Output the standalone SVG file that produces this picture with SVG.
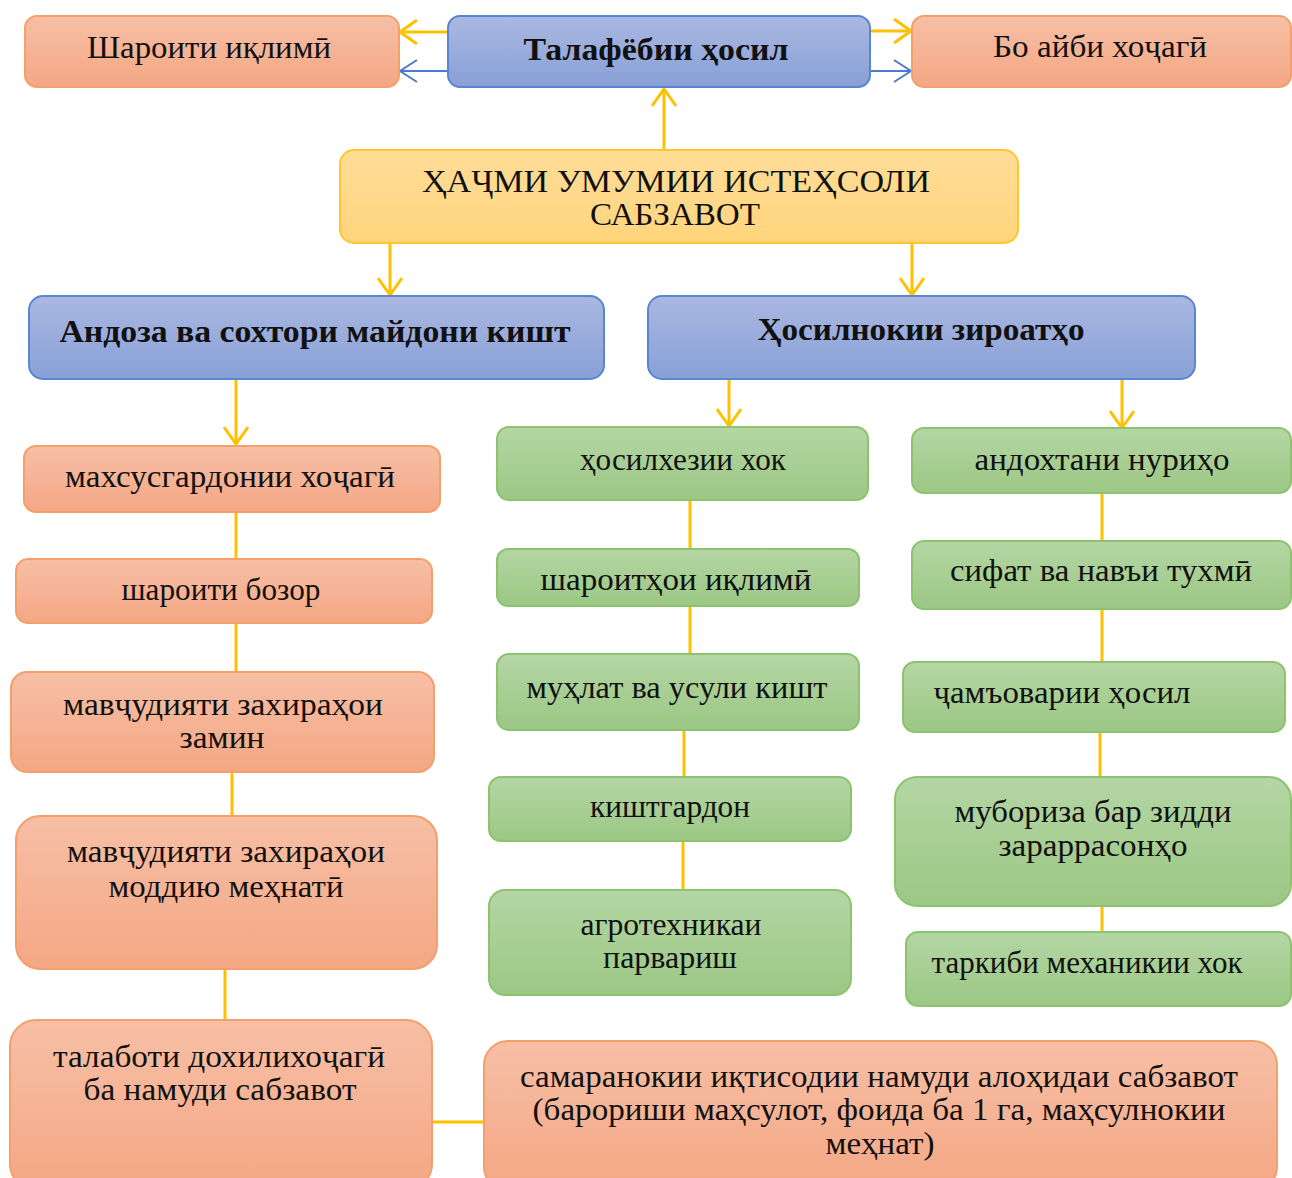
<svg xmlns="http://www.w3.org/2000/svg" width="1292" height="1178" viewBox="0 0 1292 1178">
<style>
.t{font-family:"Liberation Serif","Times New Roman","DejaVu Serif",serif;font-size:31px;fill:#111111;text-anchor:middle}
.b{font-weight:bold;font-size:32px}
.or{fill:url(#gOr);stroke:#F3A06A;stroke-width:2}
.bl{fill:url(#gBl);stroke:#5A85D0;stroke-width:2}
.gr{fill:url(#gGr);stroke:#8DC26E;stroke-width:2}
.ye{fill:url(#gYe);stroke:#FFC72C;stroke-width:2}
.cy{stroke:#FFC000;stroke-width:3;fill:none}
.cb{stroke:#4A7BD0;stroke-width:2;fill:none}
</style>
<defs>
<linearGradient id="gOr" x1="0" y1="0" x2="0" y2="1"><stop offset="0" stop-color="#F7BFA6"/><stop offset="1" stop-color="#F4A784"/></linearGradient>
<linearGradient id="gBl" x1="0" y1="0" x2="0" y2="1"><stop offset="0" stop-color="#AAB8E1"/><stop offset="1" stop-color="#88A0D7"/></linearGradient>
<linearGradient id="gGr" x1="0" y1="0" x2="0" y2="1"><stop offset="0" stop-color="#B4D6A4"/><stop offset="1" stop-color="#9CC784"/></linearGradient>
<linearGradient id="gYe" x1="0" y1="0" x2="0" y2="1"><stop offset="0" stop-color="#FFDD98"/><stop offset="1" stop-color="#FFD47C"/></linearGradient>
<marker id="ay" viewBox="0 0 20 26" refX="18" refY="13" markerWidth="20" markerHeight="26" markerUnits="userSpaceOnUse" orient="auto"><path d="M1,1 L18,13 L1,25" fill="none" stroke="#FFC000" stroke-width="3"/></marker>
<marker id="ab" viewBox="0 0 20 24" refX="18" refY="12" markerWidth="20" markerHeight="24" markerUnits="userSpaceOnUse" orient="auto"><path d="M1,1 L18,12 L1,23" fill="none" stroke="#4A7BD0" stroke-width="2"/></marker>
</defs>

<g id="connectors">
<line class="cy" x1="448" y1="32" x2="400" y2="32" marker-end="url(#ay)"/>
<line class="cb" x1="448" y1="71" x2="400" y2="71" marker-end="url(#ab)"/>
<line class="cy" x1="870" y1="31" x2="911" y2="31" marker-end="url(#ay)"/>
<line class="cb" x1="870" y1="71" x2="911" y2="71" marker-end="url(#ab)"/>
<line class="cy" x1="664" y1="150" x2="664" y2="89" marker-end="url(#ay)"/>
<line class="cy" x1="390" y1="243" x2="390" y2="295" marker-end="url(#ay)"/>
<line class="cy" x1="912" y1="243" x2="912" y2="295" marker-end="url(#ay)"/>
<line class="cy" x1="236" y1="379" x2="236" y2="444" marker-end="url(#ay)"/>
<line class="cy" x1="729" y1="379" x2="729" y2="426" marker-end="url(#ay)"/>
<line class="cy" x1="1122" y1="379" x2="1122" y2="428" marker-end="url(#ay)"/>
<line class="cy" x1="236" y1="512" x2="236" y2="559"/>
<line class="cy" x1="236" y1="623" x2="236" y2="672"/>
<line class="cy" x1="232" y1="772" x2="232" y2="816"/>
<line class="cy" x1="225" y1="969" x2="225" y2="1020"/>
<line class="cy" x1="432" y1="1122" x2="484" y2="1122"/>
<line class="cy" x1="690" y1="500" x2="690" y2="549"/>
<line class="cy" x1="690" y1="606" x2="690" y2="654"/>
<line class="cy" x1="684" y1="730" x2="684" y2="777"/>
<line class="cy" x1="683" y1="841" x2="683" y2="890"/>
<line class="cy" x1="1102" y1="493" x2="1102" y2="541"/>
<line class="cy" x1="1102" y1="609" x2="1102" y2="662"/>
<line class="cy" x1="1100" y1="732" x2="1100" y2="777"/>
<line class="cy" x1="1102" y1="906" x2="1102" y2="932"/>
</g>

<g id="n-sharoiti-iqlimi"><rect class="or" x="25" y="16" width="374" height="71" rx="12"/><text class="t" x="209" y="58" textLength="244" lengthAdjust="spacingAndGlyphs">Шароити иқлимӣ</text></g>
<g id="n-talafyobi"><rect class="bl" x="448" y="16" width="422" height="71" rx="12"/><text class="t b" x="656" y="60" textLength="265" lengthAdjust="spacingAndGlyphs">Талафёбии ҳосил</text></g>
<g id="n-bo-aybi"><rect class="or" x="912" y="16" width="379" height="71" rx="12"/><text class="t" x="1100" y="57" textLength="214" lengthAdjust="spacingAndGlyphs">Бо айби хоҷагӣ</text></g>

<g id="n-hajm"><rect class="ye" x="340" y="150" width="678" height="93" rx="14"/><text class="t" x="676" y="192" textLength="508" lengthAdjust="spacingAndGlyphs">ҲАҶМИ УМУМИИ ИСТЕҲСОЛИ</text><text class="t" x="675" y="225" textLength="170" lengthAdjust="spacingAndGlyphs">САБЗАВОТ</text></g>

<g id="n-andoza"><rect class="bl" x="29" y="296" width="575" height="83" rx="14"/><text class="t b" x="315" y="342" textLength="511" lengthAdjust="spacingAndGlyphs">Андоза ва сохтори майдони кишт</text></g>
<g id="n-hosilnoki"><rect class="bl" x="648" y="296" width="547" height="83" rx="14"/><text class="t b" x="921" y="340" textLength="327" lengthAdjust="spacingAndGlyphs">Ҳосилнокии зироатҳо</text></g>

<g id="n-mahsus"><rect class="or" x="24" y="446" width="416" height="66" rx="12"/><text class="t" x="230" y="487" textLength="330" lengthAdjust="spacingAndGlyphs">махсусгардонии хоҷагӣ</text></g>
<g id="n-bozor"><rect class="or" x="16" y="559" width="416" height="64" rx="12"/><text class="t" x="221" y="600" textLength="199" lengthAdjust="spacingAndGlyphs">шароити бозор</text></g>
<g id="n-zamin"><rect class="or" x="11" y="672" width="423" height="100" rx="16"/><text class="t" x="223" y="715" textLength="320" lengthAdjust="spacingAndGlyphs">мавҷудияти захираҳои</text><text class="t" x="222" y="748" textLength="85" lengthAdjust="spacingAndGlyphs">замин</text></g>
<g id="n-moddi"><rect class="or" x="16" y="816" width="421" height="153" rx="24"/><text class="t" x="226" y="862" textLength="318" lengthAdjust="spacingAndGlyphs">мавҷудияти захираҳои</text><text class="t" x="226" y="897" textLength="235" lengthAdjust="spacingAndGlyphs">моддию меҳнатӣ</text></g>
<g id="n-talabot"><rect class="or" x="10" y="1020" width="422" height="170" rx="26"/><text class="t" x="219" y="1067" textLength="332" lengthAdjust="spacingAndGlyphs">талаботи дохилихоҷагӣ</text><text class="t" x="220" y="1100" textLength="273" lengthAdjust="spacingAndGlyphs">ба намуди сабзавот</text></g>
<g id="n-samara"><rect class="or" x="484" y="1041" width="793" height="150" rx="24"/><text class="t" x="879" y="1087" textLength="718" lengthAdjust="spacingAndGlyphs">самаранокии иқтисодии намуди алоҳидаи сабзавот</text><text class="t" x="879" y="1120" textLength="693" lengthAdjust="spacingAndGlyphs">(барориши маҳсулот, фоида ба 1 га, маҳсулнокии</text><text class="t" x="880" y="1154" textLength="109" lengthAdjust="spacingAndGlyphs">меҳнат)</text></g>

<g id="n-hosilhezi"><rect class="gr" x="497" y="427" width="371" height="73" rx="12"/><text class="t" x="683" y="470" textLength="206" lengthAdjust="spacingAndGlyphs">ҳосилхезии хок</text></g>
<g id="n-iqlimi2"><rect class="gr" x="497" y="549" width="362" height="57" rx="11"/><text class="t" x="676" y="590" textLength="271" lengthAdjust="spacingAndGlyphs">шароитҳои иқлимӣ</text></g>
<g id="n-muhlat"><rect class="gr" x="497" y="654" width="362" height="76" rx="12"/><text class="t" x="677" y="698" textLength="301" lengthAdjust="spacingAndGlyphs">муҳлат ва усули кишт</text></g>
<g id="n-kisht"><rect class="gr" x="489" y="777" width="362" height="64" rx="12"/><text class="t" x="670" y="817" textLength="160" lengthAdjust="spacingAndGlyphs">киштгардон</text></g>
<g id="n-agro"><rect class="gr" x="489" y="890" width="362" height="105" rx="16"/><text class="t" x="671" y="935" textLength="181" lengthAdjust="spacingAndGlyphs">агротехникаи</text><text class="t" x="670" y="968" textLength="134" lengthAdjust="spacingAndGlyphs">парвариш</text></g>

<g id="n-nuri"><rect class="gr" x="912" y="428" width="379" height="65" rx="12"/><text class="t" x="1102" y="470" textLength="255" lengthAdjust="spacingAndGlyphs">андохтани нуриҳо</text></g>
<g id="n-sifat"><rect class="gr" x="912" y="541" width="379" height="68" rx="12"/><text class="t" x="1101" y="581" textLength="302" lengthAdjust="spacingAndGlyphs">сифат ва навъи тухмӣ</text></g>
<g id="n-jamovari"><rect class="gr" x="903" y="662" width="382" height="70" rx="12"/><text class="t" x="1062" y="703" textLength="257" lengthAdjust="spacingAndGlyphs">ҷамъоварии ҳосил</text></g>
<g id="n-muboriza"><rect class="gr" x="895" y="777" width="396" height="129" rx="22"/><text class="t" x="1093" y="822" textLength="277" lengthAdjust="spacingAndGlyphs">мубориза бар зидди</text><text class="t" x="1093" y="856" textLength="189" lengthAdjust="spacingAndGlyphs">зараррасонҳо</text></g>
<g id="n-tarkib"><rect class="gr" x="906" y="932" width="385" height="74" rx="12"/><text class="t" x="1087" y="973" textLength="311" lengthAdjust="spacingAndGlyphs">таркиби механикии хок</text></g>
</svg>
